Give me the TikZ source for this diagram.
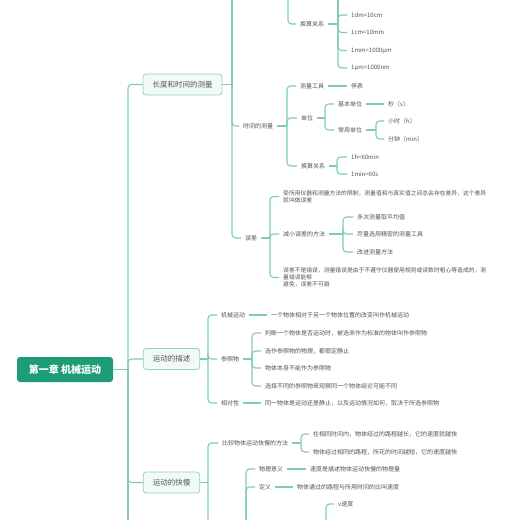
\documentclass[tikz,border=0pt]{standalone}
\usepackage{fontspec}
\setmainfont{Noto Sans CJK SC}
\usetikzlibrary{calc}
\definecolor{linec}{HTML}{7FCDB1}
\definecolor{rootc}{HTML}{1E9C76}
\definecolor{lonec}{HTML}{F1FAF6}
\definecolor{lonebd}{HTML}{92D4BD}
\definecolor{txt}{HTML}{555555}
\begin{document}
\begin{tikzpicture}[x=1pt,y=-1pt,
  conn/.style={draw=linec,line width=1.1pt,rounded corners=3.5pt},
  leaf/.style={anchor=west,inner xsep=4pt,inner ysep=1pt,font=\fontsize{6}{7}\selectfont,text=txt,align=left},
  para/.style={anchor=west,inner xsep=4pt,inner ysep=1pt,font=\fontsize{5.8}{7.2}\selectfont,text=txt,align=left},
  sec/.style={draw=lonebd,fill=lonec,rounded corners=3pt,line width=0.8pt,font=\fontsize{7.5}{9}\selectfont,text=txt,minimum height=21pt,inner xsep=9.5pt},
  rootbox/.style={fill=rootc,rounded corners=3pt,text=white,font=\fontsize{10}{12}\selectfont\bfseries,minimum width=96pt,minimum height=25pt}]
\useasboundingbox (0,0) rectangle (520,520);
\fill[white] (0,0) rectangle (520,520);
\clip (0,0) rectangle (520,520);

% root and sections
\node[rootbox] (root) at (65,369.5) {第一章 机械运动};
\node[sec] (L1) at (182.5,84.5) {长度和时间的测量};
\node[sec] (L2) at (171.5,359) {运动的描述};
\node[sec] (L3) at (171.5,482.5) {运动的快慢};
\coordinate (T) at (128,369.5);
\coordinate (Tend) at (128,530);
\draw[conn] (root.east) -- (T);
\draw[conn] (T) |- (L1.west);
\draw[conn] (T) |- (L2.west);
\draw[conn] (T) |- (L3.west);
\draw[conn] (T) -- (Tend);

% ---- section 1
\coordinate (B1) at (232,84.5);
\coordinate (B1top) at (232,-10);
\node[leaf] (time) at (239,126) {时间的测量};
\node[leaf] (err) at (241,238) {误差};
\draw[conn] (L1.east) -- (B1);
\draw[conn] (B1) -- (B1top);
\draw[conn] (B1) |- (time.west);
\draw[conn] (B1) |- (err.west);

% length conversions (partly cropped)
\coordinate (Blen) at (288,-10);
\node[leaf] (conv1) at (296,24) {换算关系};
\draw[conn] (Blen) |- (conv1.west);
\coordinate (Bc1) at (338,24);
\coordinate (Bc1top) at (338,-10);
\node[leaf] (c1) at (347,15) {1dm=10cm};
\node[leaf] (c2) at (347,32.5) {1cm=10mm};
\node[leaf] (c3) at (347,50.5) {1mm=1000μm};
\node[leaf] (c4) at (347,68) {1μm=1000nm};
\draw[conn] (conv1.east) -- (Bc1);
\draw[conn] (Bc1) -- (Bc1top);
\foreach \n in {c1,c2,c3,c4} \draw[conn] (Bc1) |- (\n.west);

% time
\coordinate (Bt) at (287,126);
\node[leaf] (tool) at (296,86) {测量工具};
\node[leaf] (stopw) at (347,86) {停表};
\node[leaf] (unit) at (297,118) {单位};
\node[leaf] (conv2) at (297,166) {换算关系};
\draw[conn] (time.east) -- (Bt);
\foreach \n in {tool,unit,conv2} \draw[conn] (Bt) |- (\n.west);
\draw[conn] (tool.east) -- (stopw.west);

\coordinate (Bu) at (325,118);
\node[leaf] (basic) at (334,104) {基本单位};
\node[leaf] (common) at (334,130) {常用单位};
\draw[conn] (unit.east) -- (Bu);
\draw[conn] (Bu) |- (basic.west);
\draw[conn] (Bu) |- (common.west);
\node[leaf] (sec) at (384,104) {秒（s）};
\draw[conn] (basic.east) -- (sec.west);
\coordinate (Bcm) at (376,130);
\node[leaf] (hour) at (384,121) {小时（h）};
\node[leaf] (minute) at (384,139) {分钟（min）};
\draw[conn] (common.east) -- (Bcm);
\draw[conn] (Bcm) |- (hour.west);
\draw[conn] (Bcm) |- (minute.west);

\coordinate (Bc2) at (337,166);
\node[leaf] (h1) at (347,157) {1h=60min};
\node[leaf] (h2) at (347,174) {1min=60s};
\draw[conn] (conv2.east) -- (Bc2);
\draw[conn] (Bc2) |- (h1.west);
\draw[conn] (Bc2) |- (h2.west);

% error
\coordinate (Be) at (270,238);
\node[para] (p1) at (279,196.5) {受所用仪器和测量方法的限制，测量值和与真实值之间总会存在差异，这个差异\\就叫做误差};
\node[leaf] (reduce) at (279,234) {减小误差的方法};
\node[para] (p2) at (279,277.5) {误差不是错误，测量错误是由于不遵守仪器使用规则或读数时粗心等造成的，测\\量错误能够\\避免，误差不可避};
\draw[conn] (err.east) -- (Be);
\foreach \n in {p1,reduce,p2} \draw[conn] (Be) |- (\n.west);
\coordinate (Br) at (343,234);
\node[leaf] (r1) at (353,217) {多次测量取平均值};
\node[leaf] (r2) at (353,234) {尽量选用精密的测量工具};
\node[leaf] (r3) at (353,252) {改进测量方法};
\draw[conn] (reduce.east) -- (Br);
\foreach \n in {r1,r2,r3} \draw[conn] (Br) |- (\n.west);

% ---- section 2
\coordinate (B2) at (208,359);
\node[leaf] (mech) at (217,315) {机械运动};
\node[leaf] (ref) at (217,359) {参照物};
\node[leaf] (rel) at (217,403) {相对性};
\draw[conn] (L2.east) -- (B2);
\foreach \n in {mech,ref,rel} \draw[conn] (B2) |- (\n.west);
\node[leaf] (mechdef) at (267,315) {一个物体相对于另一个物体位置的改变叫作机械运动};
\draw[conn] (mech.east) -- (mechdef.west);
\node[leaf] (reldef) at (261,403) {同一物体是运动还是静止，以及运动情况如何，取决于所选参照物};
\draw[conn] (rel.east) -- (reldef.west);
\coordinate (Bref) at (252,359);
\node[leaf] (f1) at (261,333) {判断一个物体是否运动时，被选来作为标准的物体叫作参照物};
\node[leaf] (f2) at (261,351) {选作参照物的物理，都假定静止};
\node[leaf] (f3) at (261,368) {物体本身不能作为参照物};
\node[leaf] (f4) at (261,386) {选择不同的参照物来观察同一个物体结论可能不同};
\draw[conn] (ref.east) -- (Bref);
\foreach \n in {f1,f2,f3,f4} \draw[conn] (Bref) |- (\n.west);

% ---- section 3
\coordinate (B3) at (208,482.5);
\coordinate (B3end) at (208,530);
\node[leaf] (cmp) at (218,443) {比较物体运动快慢的方法};
\draw[conn] (L3.east) -- (B3);
\draw[conn] (B3end) |- (cmp.west);
\coordinate (Bcmp) at (301,443);
\node[leaf] (k1) at (309,434) {在相同时间内，物体经过的路程越长，它的速度就越快};
\node[leaf] (k2) at (309,452) {物体经过相同的路程，所花的时间越短，它的速度越快};
\draw[conn] (cmp.east) -- (Bcmp);
\draw[conn] (Bcmp) |- (k1.west);
\draw[conn] (Bcmp) |- (k2.west);

\coordinate (Bs) at (246,530);
\node[leaf] (meaning) at (255,469) {物理意义};
\node[leaf] (def) at (255,487) {定义};
\draw[conn] (Bs) |- (meaning.west);
\draw[conn] (Bs) |- (def.west);
\node[leaf] (meandef) at (306,469) {速度是描述物体运动快慢的物理量};
\node[leaf] (defdef) at (293,487) {物体通过的路程与所用时间的比叫速度};
\draw[conn] (meaning.east) -- (meandef.west);
\draw[conn] (def.east) -- (defdef.west);

\coordinate (Bf) at (326,530);
\node[leaf] (v) at (334,504) {v速度};
\draw[conn] (Bf) |- (v.west);
\end{tikzpicture}
\end{document}
